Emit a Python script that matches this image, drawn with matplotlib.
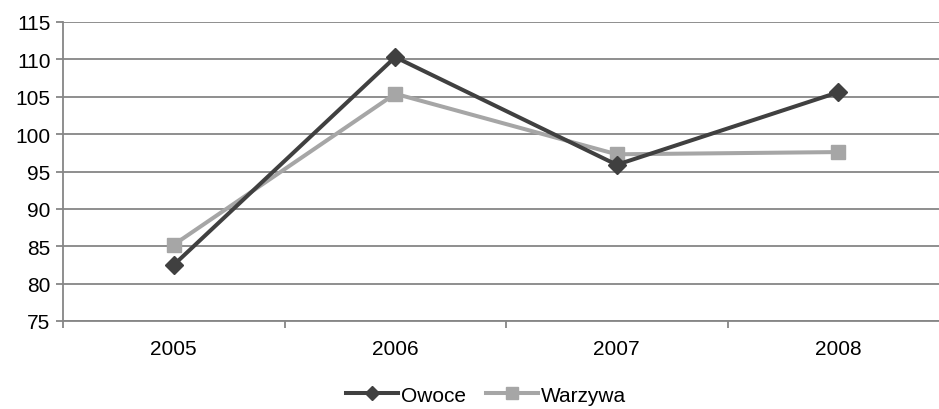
import matplotlib
matplotlib.use("Agg")
import matplotlib.pyplot as plt

years = ["2005", "2006", "2007", "2008"]
owoce = [82.5, 110.3, 95.9, 105.6]
warzywa = [85.2, 105.4, 97.3, 97.6]
yticks = [75, 80, 85, 90, 95, 100, 105, 110, 115]

plt.rcParams['font.family'] = ['Liberation Sans', 'DejaVu Sans']

fig = plt.figure(figsize=(9.39, 4.10), dpi=100)
ax = fig.add_axes([63/939, 1-322/410, (949-63)/939, (322-23)/410])

grid_c = "#868686"
x = list(range(len(years)))
ax.plot(x, owoce, color="#404040", lw=2.9, marker="D", ms=9.5, label="Owoce", zorder=3)
ax.plot(x, warzywa, color="#a6a6a6", lw=2.9, marker="s", ms=10.5, label="Warzywa", zorder=2)

ax.set_xlim(-0.5, len(years) - 0.5)
ax.set_ylim(75, 115)
ax.set_yticks(yticks)
ax.set_yticklabels([str(v) for v in yticks], fontsize=15)
ax.yaxis.grid(True, color=grid_c, lw=1.3)
ax.set_axisbelow(True)

ax.set_xticks([i - 0.5 for i in range(len(years) + 1)])
ax.set_xticklabels([])
ax.set_xticks(x, minor=True)
ax.set_xticklabels(years, minor=True, fontsize=15)
ax.tick_params(axis="x", which="minor", length=0, pad=13)
ax.tick_params(axis="x", which="major", length=5, color=grid_c, width=1.3)
ax.tick_params(axis="y", length=5, color=grid_c, width=1.3, pad=4)

for s in ["top", "right"]:
    ax.spines[s].set_visible(False)
for s in ["left", "bottom"]:
    ax.spines[s].set_color(grid_c)
    ax.spines[s].set_linewidth(1.3)

fig.legend(loc="lower center", bbox_to_anchor=(486/939, -0.035), ncol=2, frameon=False,
           fontsize=15, handlelength=2.5, handletextpad=0.1, columnspacing=1.0,
           markerscale=0.8)

fig.savefig("out.png", dpi=100)
